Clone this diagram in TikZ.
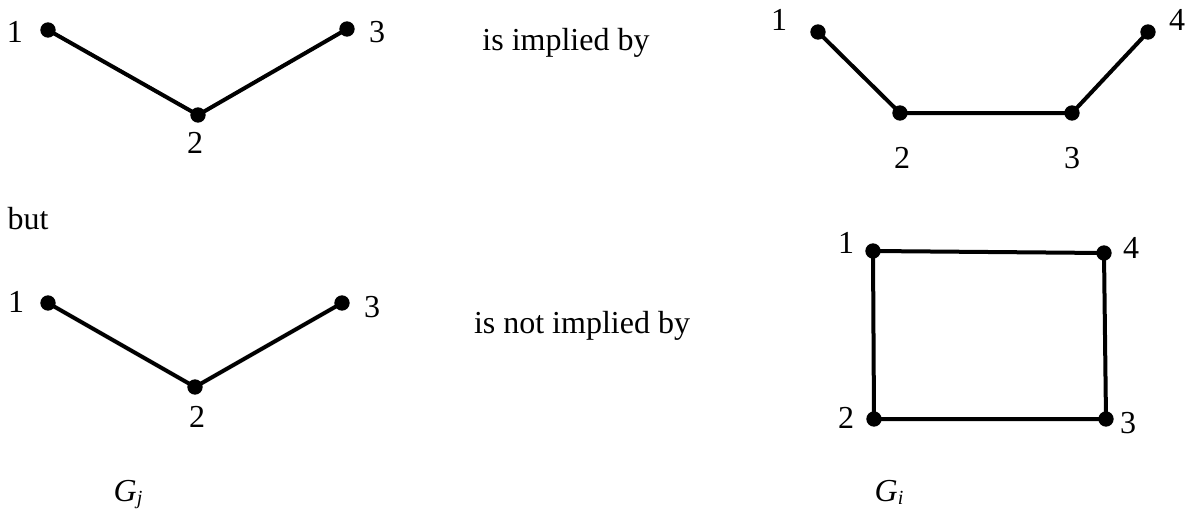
\documentclass[tikz,border=0pt]{standalone}
\usepackage{fontspec}
\setmainfont{Liberation Serif}
\begin{document}
\begin{tikzpicture}[x=0.75pt,y=-0.75pt,
  dot/.style={circle,fill=black,inner sep=0pt,minimum size=11.5pt},
  edge/.style={line width=3pt},
  lab/.style={anchor=base,inner sep=0pt,font=\fontsize{24}{27}\selectfont}]
\useasboundingbox (0,0) rectangle (1189,518);
% top-left G_j
\node[dot] (a1) at (48,30) {};
\node[dot] (a2) at (198,115) {};
\node[dot] (a3) at (347,29) {};
\draw[edge] (a1.center) -- (a2.center) -- (a3.center);
\node[lab] (la1) at (15,42) {1};
\node[lab] (la2) at (195,153) {2};
\node[lab] (la3) at (377,42) {3};
\node[lab] (t1) at (566,50) {is implied by};
% top-right
\node[dot] (b1) at (818,32) {};
\node[dot] (b2) at (900,113) {};
\node[dot] (b3) at (1072,113) {};
\node[dot] (b4) at (1148,32) {};
\draw[edge] (b1.center) -- (b2.center) -- (b3.center) -- (b4.center);
\node[lab] (lb1) at (779,30) {1};
\node[lab] (lb2) at (902,168) {2};
\node[lab] (lb3) at (1072,168) {3};
\node[lab] (lb4) at (1177,30) {4};
% but
\node[lab] (but) at (28,229) {but};
% bottom-left
\node[dot] (c1) at (48,303) {};
\node[dot] (c2) at (195,387) {};
\node[dot] (c3) at (342,303) {};
\draw[edge] (c1.center) -- (c2.center) -- (c3.center);
\node[lab] (lc1) at (16,312) {1};
\node[lab] (lc2) at (197,427) {2};
\node[lab] (lc3) at (372,317) {3};
\node[lab] (t2) at (582,333) {is not implied by};
% bottom-right
\node[dot] (d1) at (873,251) {};
\node[dot] (d2) at (874,419) {};
\node[dot] (d3) at (1106,419) {};
\node[dot] (d4) at (1104,253) {};
\draw[edge] (d1.center) -- (d2.center) -- (d3.center) -- (d4.center) -- cycle;
\node[lab] (ld1) at (846,253) {1};
\node[lab] (ld2) at (846,428) {2};
\node[lab] (ld3) at (1128,433) {3};
\node[lab] (ld4) at (1131,258) {4};
% captions
\node[lab] (gj) at (128,501) {\textit{G}\raisebox{-0.25ex}{\fontsize{15}{16}\selectfont\textit{j}}};
\node[lab] (gi) at (889,501) {\textit{G}\raisebox{-0.25ex}{\fontsize{15}{16}\selectfont\textit{i}}};
\end{tikzpicture}
\end{document}
